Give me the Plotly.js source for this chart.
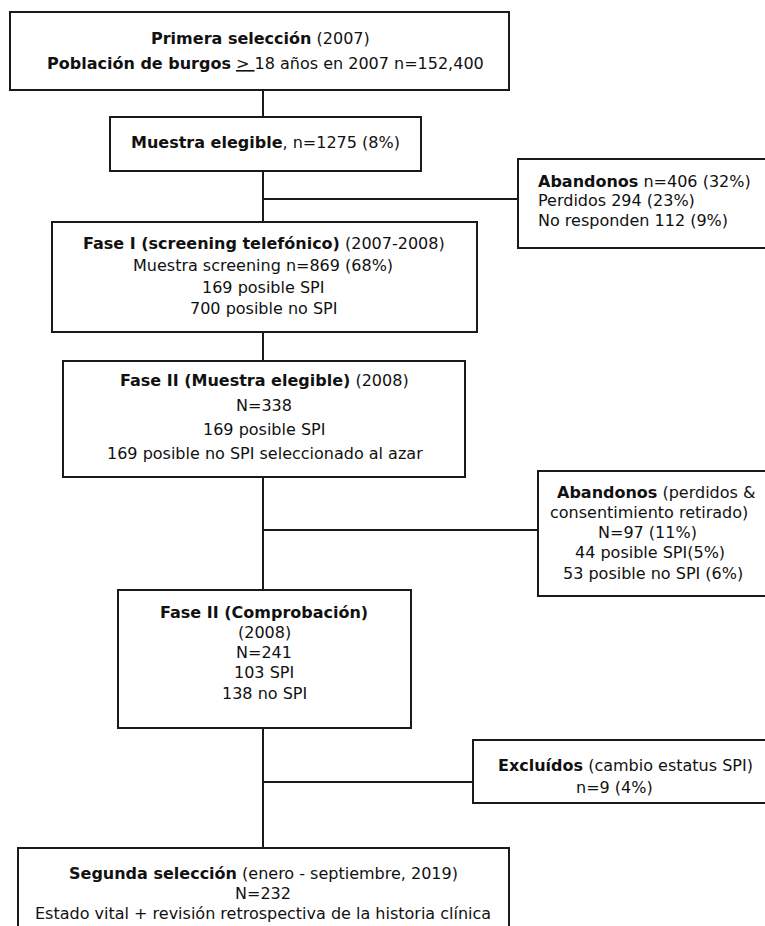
<!DOCTYPE html>
<html>
<head>
<meta charset="utf-8">
<script src="https://cdn.plot.ly/plotly-3.0.1.min.js"></script>
<style>html,body{margin:0;padding:0;background:#fff;}#chart{width:765px;height:926px;}</style>
</head>
<body>
<div id="chart"></div>
<script>
// ---- Flowchart content (text of each box) ----
const primeraLines = ['<b>Primera selección</b> (2007)',
  '<b>Población de burgos</b> <span style="text-decoration:underline">&gt; </span>18 años en 2007 n=152,400'];
const elegibleLines = ['<b>Muestra elegible</b>, n=1275 (8%)'];
const abandonos1Lines = ['<b>Abandonos</b> n=406 (32%)', 'Perdidos 294 (23%)', 'No responden 112 (9%)'];
const fase1Lines = ['<b>Fase I (screening telefónico)</b> (2007-2008)', 'Muestra screening n=869 (68%)',
  '169 posible SPI', '700 posible no SPI'];
const fase2Lines = ['<b>Fase II (Muestra elegible)</b> (2008)', 'N=338', '169 posible SPI',
  '169 posible no SPI seleccionado al azar'];
const abandonos2Lines = ['<b>Abandonos</b> (perdidos &amp;', 'consentimiento retirado)', 'N=97 (11%)',
  '44 posible SPI(5%)', '53 posible no SPI (6%)'];
const comprobLines = ['<b>Fase II (Comprobación)</b>', '(2008)', 'N=241', '103 SPI', '138 no SPI'];
const excluidosLines = ['<b>Excluídos</b> (cambio estatus SPI)', 'n=9 (4%)'];
const segundaLines = ['<b>Segunda selección</b> (enero - septiembre, 2019)', 'N=232',
  'Estado vital + revisión retrospectiva de la historia clínica'];

// ---- Layout geometry (pixels in a 765x926 frame) ----
const geom = [
  {lines: primeraLines,   box: [10, 509, 12, 90],   tx: [260, 265], ty: [38, 63], align: 'center'},
  {lines: elegibleLines,  box: [110, 421, 117, 171], tx: [265], ty: [142], align: 'center'},
  {lines: abandonos1Lines,box: [518, 775, 159, 248], tx: [536, 536, 536], ty: [181, 200, 220], align: 'left'},
  {lines: fase1Lines,     box: [52, 477, 222, 332], tx: [264, 263, 263, 263], ty: [243, 265, 287, 308], align: 'center'},
  {lines: fase2Lines,     box: [63, 465, 361, 477], tx: [264, 264, 264, 265], ty: [380, 405, 429, 453], align: 'center'},
  {lines: abandonos2Lines,box: [538, 775, 471, 596], tx: [656, 649, 647, 650, 653], ty: [492, 512, 532, 552, 573], align: 'center'},
  {lines: comprobLines,   box: [118, 411, 590, 728], tx: [264, 264, 264, 264, 264], ty: [612, 632, 652, 672, 693], align: 'center'},
  {lines: excluidosLines, box: [473, 775, 740, 803], tx: [625, 614], ty: [765, 787], align: 'center'},
  {lines: segundaLines,   box: [18, 509, 848, 960], tx: [263, 263, 263], ty: [873, 893, 913], align: 'center'}
];
const spineX = 263;
const connectors = [[199, 518], [530, 538], [782, 473]];

const lineColor = '#1a1a1a';
const shapes = [];
shapes.push({type: 'line', xref: 'x', yref: 'y', x0: spineX, x1: spineX, y0: 90, y1: 848,
  line: {color: lineColor, width: 2}});
connectors.forEach(c => shapes.push({type: 'line', xref: 'x', yref: 'y', x0: spineX, x1: c[1], y0: c[0], y1: c[0],
  line: {color: lineColor, width: 2}}));
geom.forEach(g => shapes.push({type: 'rect', xref: 'x', yref: 'y', x0: g.box[0], x1: g.box[1], y0: g.box[2], y1: g.box[3],
  line: {color: lineColor, width: 2}, fillcolor: '#ffffff'}));

const annotations = [];
geom.forEach(g => g.lines.forEach((t, i) => annotations.push({
  xref: 'x', yref: 'y', x: g.tx[i], y: g.ty[i], text: t, showarrow: false,
  xanchor: g.align === 'left' ? 'left' : 'center', yanchor: 'middle',
  font: {family: 'DejaVu Sans, Verdana, sans-serif', size: 16, color: '#111'}
})));

Plotly.newPlot('chart', [], {
  width: 765, height: 926,
  margin: {l: 0, r: 0, t: 0, b: 0, pad: 0},
  paper_bgcolor: '#ffffff', plot_bgcolor: '#ffffff',
  xaxis: {range: [0, 765], visible: false, fixedrange: true},
  yaxis: {range: [926, 0], visible: false, fixedrange: true},
  shapes: shapes, annotations: annotations, showlegend: false
}, {displayModeBar: false, staticPlot: true});
</script>
</body>
</html>
